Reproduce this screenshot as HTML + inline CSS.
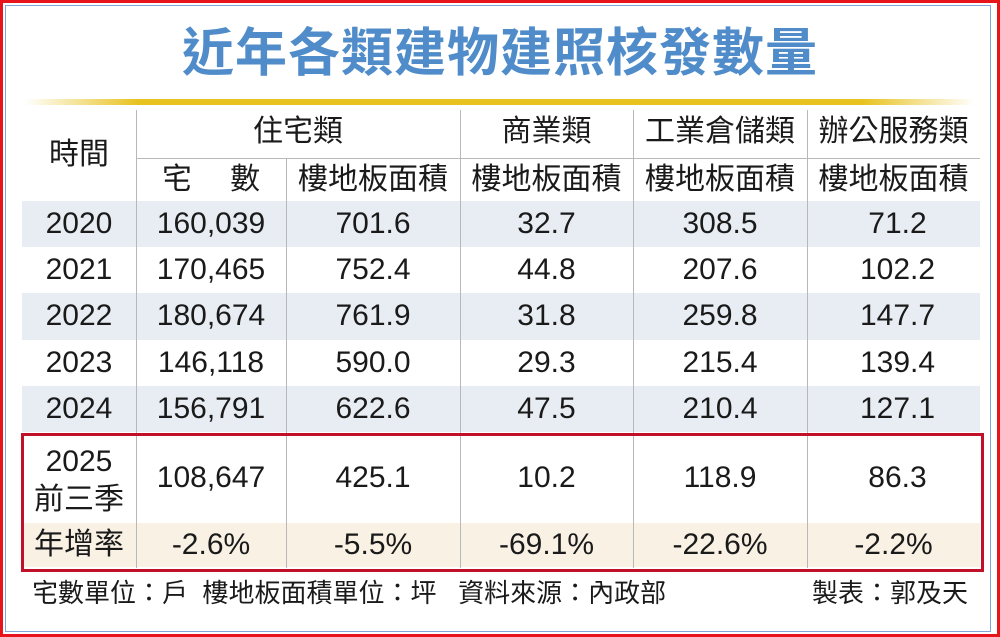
<!DOCTYPE html>
<html><head><meta charset="utf-8"><style>
body{margin:0;width:1000px;height:637px;position:relative;background:#fff;overflow:hidden;font-family:"Liberation Sans","Noto Sans CJK TC",sans-serif;color:#1a1a1a}
.a{position:absolute}
.c{position:absolute;text-align:center;font-size:30px;line-height:1}
.vl{position:absolute;width:1px;background:#b8b8b8;top:110px;height:458px}
</style></head><body>
<div class="a" style="left:0;top:0;width:994px;height:631px;border:3px solid #e8141c"></div>
<div class="a" style="left:5px;top:5px;width:984px;height:625px;border:1px solid #7fa6d6"></div>
<div class="c" style="left:0;width:1000px;top:28px;font-size:52px;font-weight:bold;color:#4f8cc9;letter-spacing:1px">近年各類建物建照核發數量</div>
<div class="a" style="left:25px;top:99px;width:950px;height:6px;background:linear-gradient(90deg,rgba(235,195,40,0),#e8c21e 12%,#e8c21e 88%,rgba(235,195,40,0))"></div>
<div class="a" style="left:22px;top:201px;width:958px;height:46px;background:#e8edf3"></div>
<div class="a" style="left:22px;top:293px;width:958px;height:47px;background:#e8edf3"></div>
<div class="a" style="left:22px;top:386px;width:958px;height:46px;background:#e8edf3"></div>
<div class="a" style="left:22px;top:523px;width:958px;height:44px;background:#f8f1e4"></div>
<div class="vl" style="left:136px"></div>
<div class="vl" style="left:286px;top:158px;height:410px"></div>
<div class="vl" style="left:460px"></div>
<div class="vl" style="left:633px"></div>
<div class="vl" style="left:807px"></div>
<div class="a" style="left:136px;top:158px;width:844px;height:1px;background:#b8b8b8"></div>
<div class="a" style="left:21px;top:433px;width:957px;height:133px;border:3px solid #c0102a"></div>
<div class="c" style="left:22px;width:114px;top:140px">時間</div>
<div class="c" style="left:136px;width:324px;top:117px">住宅類</div>
<div class="c" style="left:460px;width:173px;top:117px">商業類</div>
<div class="c" style="left:633px;width:174px;top:117px">工業倉儲類</div>
<div class="c" style="left:807px;width:173px;top:117px">辦公服務類</div>
<div class="c" style="left:136px;width:150px;top:165px">宅　&nbsp;數</div>
<div class="c" style="left:286px;width:174px;top:165px">樓地板面積</div>
<div class="c" style="left:460px;width:173px;top:165px">樓地板面積</div>
<div class="c" style="left:633px;width:174px;top:165px">樓地板面積</div>
<div class="c" style="left:807px;width:173px;top:165px">樓地板面積</div>
<div class="c" style="left:22px;width:114px;top:201px;line-height:46.2px">2020<br>2021<br>2022<br>2023<br>2024</div>
<div class="c" style="left:136px;width:150px;top:201px;line-height:46.2px">160,039<br>170,465<br>180,674<br>146,118<br>156,791</div>
<div class="c" style="left:286px;width:174px;top:201px;line-height:46.2px">701.6<br>752.4<br>761.9<br>590.0<br>622.6</div>
<div class="c" style="left:460px;width:173px;top:201px;line-height:46.2px">32.7<br>44.8<br>31.8<br>29.3<br>47.5</div>
<div class="c" style="left:633px;width:174px;top:201px;line-height:46.2px">308.5<br>207.6<br>259.8<br>215.4<br>210.4</div>
<div class="c" style="left:807px;width:173px;top:201px;line-height:46.2px;padding-left:8px;box-sizing:border-box">71.2<br>102.2<br>147.7<br>139.4<br>127.1</div>
<div class="c" style="left:22px;width:114px;top:443px;line-height:38px">2025<br>前三季</div>
<div class="c" style="left:136px;width:150px;top:463px">108,647</div>
<div class="c" style="left:286px;width:174px;top:463px">425.1</div>
<div class="c" style="left:460px;width:173px;top:463px">10.2</div>
<div class="c" style="left:633px;width:174px;top:463px">118.9</div>
<div class="c" style="left:807px;width:173px;top:463px;padding-left:8px;box-sizing:border-box">86.3</div>
<div class="c" style="left:22px;width:114px;top:530px">年增率</div>
<div class="c" style="left:136px;width:150px;top:530px">-2.6%</div>
<div class="c" style="left:286px;width:174px;top:530px">-5.5%</div>
<div class="c" style="left:460px;width:173px;top:530px">-69.1%</div>
<div class="c" style="left:633px;width:174px;top:530px">-22.6%</div>
<div class="c" style="left:807px;width:173px;top:530px">-2.2%</div>
<div class="a" style="left:32px;top:580px;font-size:26px;white-space:pre;line-height:1">宅數單位：戶  樓地板面積單位：坪   資料來源：內政部</div>
<div class="a" style="left:812px;top:580px;font-size:26px;line-height:1">製表：郭及天</div>
</body></html>
